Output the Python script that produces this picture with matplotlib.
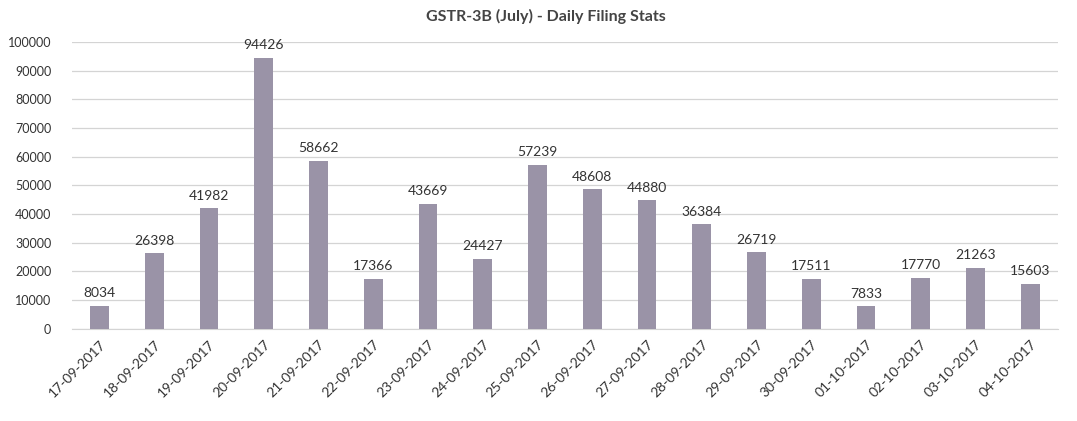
import matplotlib.pyplot as plt
import numpy as np

# data
dates = ["17-09-2017", "18-09-2017", "19-09-2017", "20-09-2017", "21-09-2017",
         "22-09-2017", "23-09-2017", "24-09-2017", "25-09-2017", "26-09-2017",
         "27-09-2017", "28-09-2017", "29-09-2017", "30-09-2017", "01-10-2017",
         "02-10-2017", "03-10-2017", "04-10-2017"]
filings = [8034, 26398, 41982, 94426, 58662, 17366, 43669, 24427, 57239,
           48608, 44880, 36384, 26719, 17511, 7833, 17770, 21263, 15603]

plt.rcParams["font.family"] = ["Lato", "DejaVu Sans"]

fig = plt.figure(figsize=(10.77, 4.21), dpi=100)
ax = fig.add_axes([0.067, 0.219, 0.915, 0.681])

x = np.arange(len(dates))
bars = ax.bar(x, filings, width=0.34, color="#9a93a7", zorder=3)

for xi, v in zip(x, filings):
    ax.text(xi, v + 2300, str(v), ha="center", va="bottom",
            fontsize=10, color="#333333")

ax.set_xlim(-0.5, len(dates) - 0.5)
ax.set_ylim(0, 100000)
ax.set_yticks(range(0, 100001, 10000))
ax.yaxis.grid(True, color="#d4d4d4", linewidth=0.9, zorder=0)
ax.set_xticks(x)
ax.set_xticklabels(dates, rotation=45, ha="right", rotation_mode="anchor",
                   fontsize=10, color="#333333")
ax.tick_params(axis="y", length=0, labelsize=9, labelcolor="#333333", pad=15)
ax.tick_params(axis="x", length=0, pad=7)
for s in ["top", "right", "left"]:
    ax.spines[s].set_visible(False)
ax.spines["bottom"].set_color("#d4d4d4")

fig.text(0.507, 0.962, "GSTR-3B (July) - Daily Filing Stats", ha="center",
         va="center", fontsize=11.5, fontweight="bold", color="#444444")

fig.savefig("out.png", dpi=100)
